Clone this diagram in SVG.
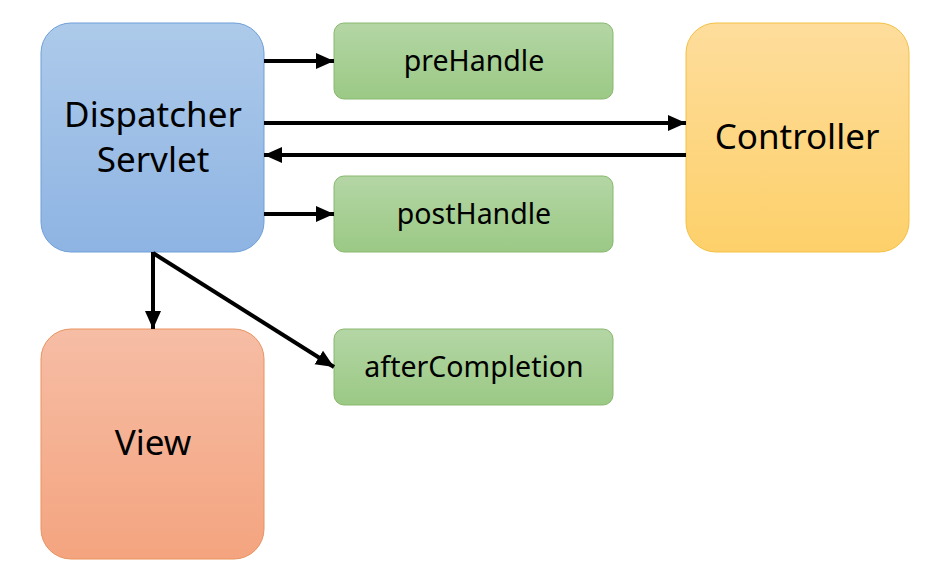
<svg xmlns="http://www.w3.org/2000/svg" width="946" height="570" viewBox="0 0 946 570">
<style>
text{font-family:"Noto Sans","Open Sans","Liberation Sans",sans-serif;fill:#000;text-anchor:middle}
.big{font-size:35px}
.small{font-size:28.5px}
.conn{stroke:#000;stroke-width:4;fill:none;marker-end:url(#ah)}
</style>
<defs>
<linearGradient id="gBlue" x1="0" y1="0" x2="0" y2="1"><stop offset="0" stop-color="#adcaea"/><stop offset="1" stop-color="#8eb4e3"/></linearGradient>
<linearGradient id="gGreen" x1="0" y1="0" x2="0" y2="1"><stop offset="0" stop-color="#b4d6a5"/><stop offset="1" stop-color="#9bc985"/></linearGradient>
<linearGradient id="gOrange" x1="0" y1="0" x2="0" y2="1"><stop offset="0" stop-color="#fedd9c"/><stop offset="1" stop-color="#fdd06a"/></linearGradient>
<linearGradient id="gRed" x1="0" y1="0" x2="0" y2="1"><stop offset="0" stop-color="#f6bda5"/><stop offset="1" stop-color="#f4a47f"/></linearGradient>
<marker id="ah" markerWidth="5" markerHeight="5" refX="4.5" refY="2.5" orient="auto" markerUnits="strokeWidth"><path d="M0,0.5 L4.5,2.5 L0,4.5 Z" fill="#000"/></marker>
</defs>
<g id="dispatcher">
<rect x="41" y="23" width="223" height="229" rx="30" fill="url(#gBlue)" stroke="#6f9fd8" stroke-width="1"/>
<text class="big" x="153" y="127">Dispatcher</text>
<text class="big" x="153" y="172">Servlet</text>
</g>
<g id="preHandle">
<rect x="334" y="23" width="279" height="76" rx="10" fill="url(#gGreen)" stroke="#88b86e" stroke-width="1"/>
<text class="small" x="474" y="71">preHandle</text>
</g>
<g id="postHandle">
<rect x="334" y="176" width="279" height="76" rx="10" fill="url(#gGreen)" stroke="#88b86e" stroke-width="1"/>
<text class="small" x="474" y="224">postHandle</text>
</g>
<g id="afterCompletion">
<rect x="334" y="329" width="279" height="76" rx="10" fill="url(#gGreen)" stroke="#88b86e" stroke-width="1"/>
<text class="small" x="474" y="377">afterCompletion</text>
</g>
<g id="controller">
<rect x="686" y="23" width="223" height="229" rx="30" fill="url(#gOrange)" stroke="#f4c042" stroke-width="1"/>
<text class="big" x="797" y="149">Controller</text>
</g>
<g id="view">
<rect x="41" y="329" width="223" height="230" rx="30" fill="url(#gRed)" stroke="#e8935f" stroke-width="1"/>
<text class="big" x="153" y="455">View</text>
</g>
<g id="connectors">
<line class="conn" x1="264" y1="61" x2="334" y2="61"/>
<line class="conn" x1="264" y1="123" x2="686" y2="123"/>
<line class="conn" x1="686" y1="155" x2="264" y2="155"/>
<line class="conn" x1="264" y1="214" x2="334" y2="214"/>
<line class="conn" x1="153" y1="252" x2="153" y2="329"/>
<line class="conn" x1="153" y1="253" x2="334" y2="367"/>
</g>
</svg>
